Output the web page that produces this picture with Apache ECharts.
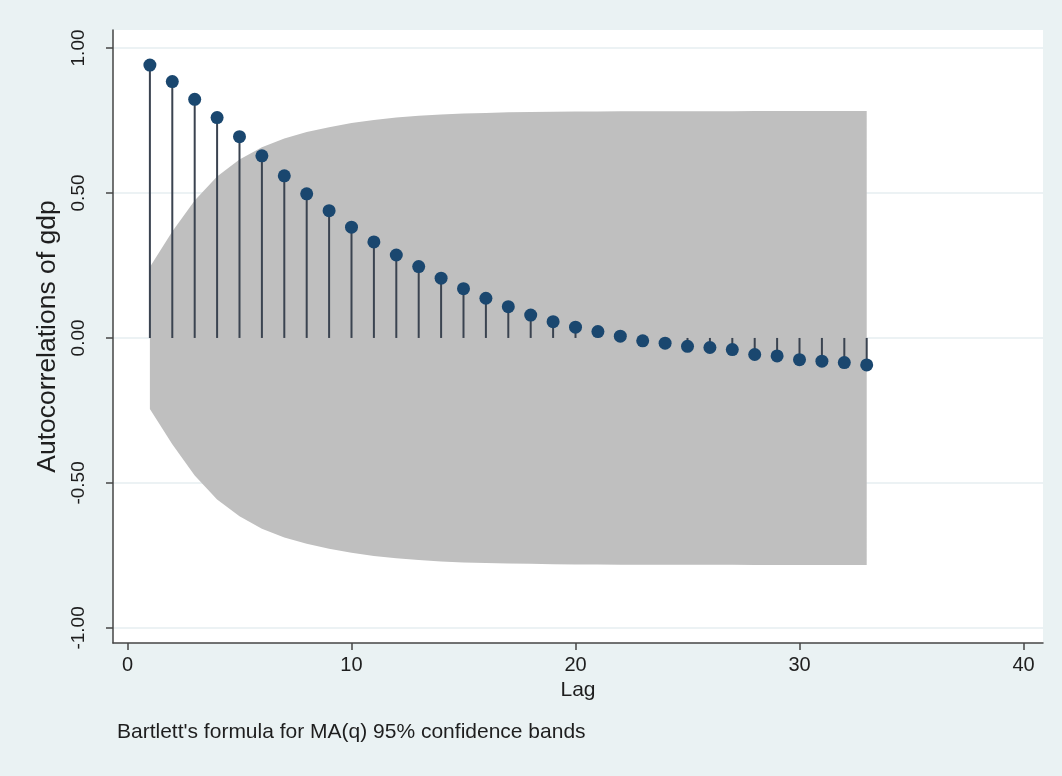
<!DOCTYPE html>
<html>
<head>
<meta charset="utf-8">
<script src="https://cdn.jsdelivr.net/npm/echarts@6/dist/echarts.min.js"></script>
<style>
html,body{margin:0;padding:0;background:#eaf2f3;}
#chart{width:1062px;height:776px;}
</style>
</head>
<body>
<div id="chart"></div>
<script>
// Lags (x values)
const lags = [1,2,3,4,5,6,7,8,9,10,11,12,13,14,15,16,17,18,19,20,21,22,23,24,25,26,27,28,29,30,31,32,33];
// Autocorrelations of gdp
const acf = [0.941,0.884,0.823,0.760,0.694,0.628,0.559,0.497,0.439,0.382,0.331,0.286,0.246,0.206,0.170,0.137,0.108,0.079,0.056,0.037,0.022,0.006,-0.010,-0.018,-0.029,-0.033,-0.040,-0.057,-0.062,-0.075,-0.080,-0.085,-0.093];
// Half-width of the 95% confidence band
const band = [0.245,0.367,0.474,0.557,0.615,0.658,0.688,0.710,0.727,0.741,0.752,0.760,0.766,0.771,0.774,0.776,0.778,0.779,0.780,0.781,0.781,0.782,0.782,0.782,0.782,0.782,0.782,0.783,0.783,0.783,0.783,0.783,0.783];
// Tick values
const xTicks = [0,10,20,30,40];
const yTicks = [-1,-0.5,0,0.5,1];
const noteText = "Bartlett's formula for MA(q) 95% confidence bands";

const FONT = 'Liberation Sans, Arial, sans-serif';
const TXT = '#1e1e1e';
const AX = '#454545';

const chart = echarts.init(document.getElementById('chart'), null, {renderer:'canvas'});

const option = {
  backgroundColor: '#eaf2f3',
  animation: false,
  graphic: [{
    type: 'text',
    left: 117, top: 722,
    style: {text: noteText, fontFamily: FONT, fontSize: 21, fill: TXT}
  }],
  grid: {
    left: 113, top: 30, right: 19, bottom: 133,
    show: true, backgroundColor: '#ffffff', borderWidth: 0
  },
  xAxis: {
    type: 'value',
    min: -0.647, max: 40.87,
    name: 'Lag', nameLocation: 'middle', nameGap: 36,
    nameTextStyle: {fontFamily: FONT, fontSize: 21, color: TXT},
    axisLine: {show: true, onZero: false, lineStyle: {color: AX, width: 1.5}},
    axisTick: {show: true, length: 7, customValues: xTicks, lineStyle: {color: AX, width: 1.5}},
    axisLabel: {customValues: xTicks, margin: 12, fontFamily: FONT, fontSize: 20, color: TXT},
    splitLine: {show: false}
  },
  yAxis: {
    type: 'value',
    min: -1.052, max: 1.062,
    name: 'Autocorrelations of gdp', nameLocation: 'middle', nameGap: 47,
    nameTextStyle: {fontFamily: FONT, fontSize: 26.5, color: TXT},
    axisLine: {show: true, onZero: false, lineStyle: {color: AX, width: 1.5}},
    axisTick: {show: true, length: 7, customValues: yTicks, lineStyle: {color: AX, width: 1.5}},
    axisLabel: {customValues: yTicks, rotate: 90, margin: 25, fontFamily: FONT, fontSize: 19, color: TXT,
      formatter: v => v.toFixed(2)},
    splitLine: {show: true, lineStyle: {color: '#e6eef0', width: 1.5}}
  },
  series: [
    {
      type: 'custom',
      name: 'band',
      z: 1,
      data: lags.map((l, i) => [l, band[i]]),
      renderItem: function (params, api) {
        if (params.dataIndex !== 0) return null;
        const pts = [];
        for (let i = 0; i < lags.length; i++) pts.push(api.coord([lags[i], band[i]]));
        for (let i = lags.length - 1; i >= 0; i--) pts.push(api.coord([lags[i], -band[i]]));
        return {type: 'polygon', shape: {points: pts}, style: {fill: '#bfbfbf', stroke: null}};
      }
    },
    {
      type: 'custom',
      name: 'stems',
      z: 2,
      data: lags.map((l, i) => [l, acf[i]]),
      renderItem: function (params, api) {
        const p0 = api.coord([api.value(0), 0]);
        const p1 = api.coord([api.value(0), api.value(1)]);
        return {type: 'line', shape: {x1: p0[0], y1: p0[1], x2: p1[0], y2: p1[1]},
          style: {stroke: '#3a4350', lineWidth: 2}};
      }
    },
    {
      type: 'scatter',
      name: 'acf',
      z: 3,
      symbol: 'circle',
      symbolSize: 13,
      itemStyle: {color: '#1a476f', opacity: 1},
      data: lags.map((l, i) => [l, acf[i]])
    }
  ]
};
chart.setOption(option);
</script>
</body>
</html>
